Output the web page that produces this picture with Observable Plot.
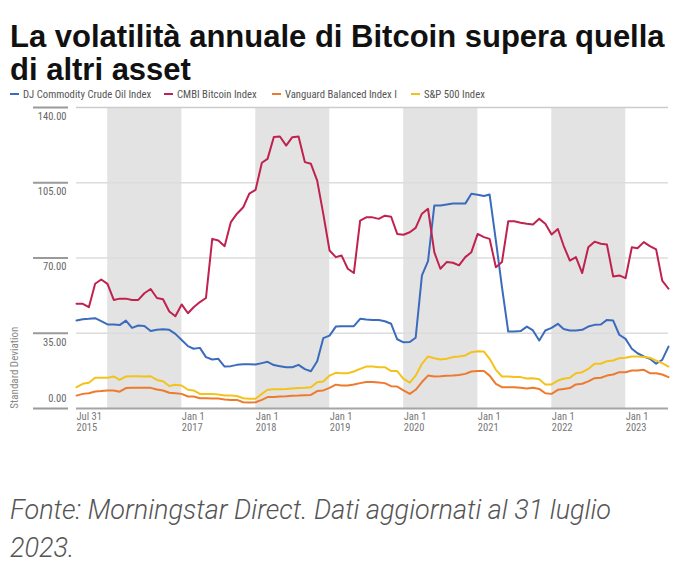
<!DOCTYPE html>
<html><head><meta charset="utf-8">
<script src="https://cdn.jsdelivr.net/npm/d3@7"></script>
<script src="https://cdn.jsdelivr.net/npm/@observablehq/plot@0.6"></script>
<style>
body{margin:0;background:#fff;width:684px;height:572px;position:relative;overflow:hidden;font-family:"Liberation Sans",Arial,sans-serif}
#title{position:absolute;left:10px;top:20px;font-size:31px;line-height:33px;font-weight:bold;color:#111;white-space:nowrap}
#legend{position:absolute;top:89px;left:0;width:684px;height:12px;font-family:"Liberation Sans Narrow","Roboto Condensed","Liberation Sans",sans-serif;font-size:10.7px;color:#555}
.item{position:absolute;top:0;white-space:nowrap;line-height:12px}
.sw{display:inline-block;width:9px;height:2.5px;vertical-align:middle;margin-right:4px;position:relative;top:-1px}
#chart{position:absolute;left:0;top:100px}
#caption{position:absolute;left:10px;top:491px;font-family:Roboto,"Liberation Sans",sans-serif;font-style:italic;font-weight:300;font-size:27px;line-height:38px;color:#555;white-space:nowrap}
</style></head>
<body>
<div id="title">La volatilità annuale di Bitcoin supera quella<br>di altri asset</div>
<div id="legend"></div>
<div id="chart"></div>
<div id="caption">Fonte: Morningstar Direct. Dati aggiornati al 31 luglio<br>2023.</div>
<script>
// Month-end observations from Jul 2015 to Jul 2023 (97 months)
const startYear = 2015, startMonth = 7, monthCount = 97;

const seriesNames = ["DJ Commodity Crude Oil Index", "CMBI Bitcoin Index", "Vanguard Balanced Index I", "S&P 500 Index"];
const seriesColors = ["#3b6bbd", "#c0224f", "#ee7a2e", "#f5c21b"];

const crudeOil = [40.9,41.5,41.7,42.0,40.6,39.1,39.1,38.8,40.9,37.5,38.6,38.4,36.0,36.6,36.9,36.6,34.7,31.9,29.0,27.8,28.2,23.9,22.8,23.1,19.5,19.7,20.3,20.6,20.6,20.5,21.1,21.7,20.2,19.7,19.2,19.2,20.3,18.3,17.3,22.0,32.7,33.9,38.1,38.3,38.3,38.3,41.7,41.4,41.2,41.2,40.6,39.4,32.2,30.8,30.9,32.9,61.9,68.5,94.4,94.4,94.9,95.3,95.3,95.3,99.9,99.4,98.8,99.5,78.1,56.4,35.8,35.8,36.0,38.1,36.3,31.6,36.3,37.5,39.4,37.0,36.3,36.3,36.6,38.1,38.9,39.1,41.2,40.9,34.3,32.4,27.8,25.7,24.2,23.1,20.8,22.6,28.8];

const bitcoin = [48.7,48.7,47.1,58.0,60.0,58.0,50.5,51.1,51.1,50.5,50.5,53.6,55.6,51.4,50.8,45.1,42.9,48.4,44.3,47.1,49.5,51.4,78.9,78.1,75.5,86.7,90.6,93.6,99.9,101.7,114.3,116.1,126.3,126.5,122.3,126.2,126.5,114.6,113.8,106.0,90.5,73.5,70.4,71.2,65.0,63.0,87.4,88.9,88.9,88.2,89.7,89.2,81.2,80.8,82.0,84.0,90.6,92.9,72.7,65.0,68.1,67.8,66.6,70.4,72.7,81.2,79.7,78.9,65.7,68.1,87.1,87.1,86.4,85.9,85.6,88.2,85.9,80.9,83.5,75.8,68.8,70.4,63.0,75.0,77.6,76.6,76.3,61.4,61.9,60.6,75.0,74.5,77.4,75.5,74.0,59.5,55.7];

const vanguardBalanced = [6.0,6.8,7.1,7.9,8.1,8.4,8.4,7.8,9.5,9.6,9.6,9.6,9.6,8.8,8.4,7.3,7.1,6.8,5.6,5.6,4.8,4.8,4.6,4.6,4.2,4.0,4.0,2.9,2.8,2.9,4.0,5.3,5.4,5.6,5.7,5.9,6.0,6.2,6.3,8.1,8.4,9.6,11.1,10.7,10.7,11.2,11.8,12.3,12.3,12.1,11.8,10.4,10.2,8.4,6.8,8.7,12.3,15.3,14.9,15.0,15.2,15.3,15.6,16.1,17.2,17.4,17.4,15.3,11.5,9.9,9.9,9.9,9.6,9.3,9.6,9.1,7.1,6.8,8.7,9.1,9.5,11.2,11.5,12.6,14.1,14.3,15.3,15.8,16.9,16.9,17.7,17.7,18.0,16.4,16.4,15.8,14.6];

const sp500 = [9.9,11.5,12.0,14.3,14.3,14.3,14.9,13.3,14.9,15.0,15.0,14.9,15.0,13.3,12.7,10.5,11.0,10.7,8.7,8.4,6.8,6.8,6.8,6.5,6.1,6.1,5.8,4.8,4.5,4.5,6.8,8.7,9.0,9.0,9.1,9.3,9.5,9.6,9.9,12.2,12.6,15.3,16.6,16.4,16.4,17.2,18.4,19.5,19.5,19.2,19.2,17.4,17.4,13.8,12.0,15.3,20.8,24.2,23.4,22.8,23.1,23.9,24.2,24.7,26.2,26.6,26.5,23.1,18.0,14.9,14.9,14.6,14.6,14.0,14.1,13.6,11.2,11.2,13.0,13.8,14.3,16.4,16.9,18.4,20.8,20.8,22.0,22.3,23.4,23.6,24.2,24.2,23.9,23.6,22.3,21.1,19.5];

const yTicks = [0, 35, 70, 105, 140];
const xTickDates = ["2015-07-31", "2017-01-01", "2018-01-01", "2019-01-01", "2020-01-01", "2021-01-01", "2022-01-01", "2023-01-01"];
const xTickLabels = ["Jul 31\n2015", "Jan 1\n2017", "Jan 1\n2018", "Jan 1\n2019", "Jan 1\n2020", "Jan 1\n2021", "Jan 1\n2022", "Jan 1\n2023"];
const shadedYears = [2016, 2018, 2020, 2022];
const yAxisTitle = "Standard Deviation";

// ---- build tables ----
const monthEnd = i => new Date(Date.UTC(startYear, startMonth - 1 + i + 1, 0));
const allValues = [crudeOil, bitcoin, vanguardBalanced, sp500];
const rows = [];
allValues.forEach((vals, s) => vals.forEach((v, i) => rows.push({series: seriesNames[s], date: monthEnd(i), value: v})));
const xTicks = xTickDates.map((d, i) => ({date: new Date(d + "T00:00:00Z"), label: xTickLabels[i]}));
const bands = shadedYears.map(y => ({start: new Date(Date.UTC(y, 0, 1)), end: new Date(Date.UTC(y + 1, 0, 1))}));

// legend
const legend = document.getElementById("legend");
const legendX = [10, 164, 272, 411];
seriesNames.forEach((n, i) => {
  const it = document.createElement("span");
  it.className = "item";
  it.style.left = legendX[i] + "px";
  it.innerHTML = `<span class="sw" style="background:${seriesColors[i]}"></span>${n}`;
  legend.appendChild(it);
});

const axisFont = `"Liberation Sans Narrow","Roboto Condensed","Liberation Sans",sans-serif`;

const chart = Plot.plot({
  width: 684,
  height: 332,
  marginLeft: 76,
  marginRight: 16,
  marginTop: 7,
  marginBottom: 24,
  style: {fontFamily: axisFont, background: "transparent", overflow: "visible"},
  x: {type: "utc", domain: [monthEnd(0), monthEnd(monthCount - 1)], axis: null},
  y: {domain: [0, 140]},
  color: {domain: seriesNames, range: seriesColors},
  marks: [
    Plot.rect(bands, {x1: "start", x2: "end", fill: "#e3e3e3"}),
    Plot.ruleY([35, 70, 105], {stroke: "#dcdcdc", strokeWidth: 1.5}),
    Plot.ruleY([140], {stroke: "#cccccc", strokeWidth: 1.5}),
    Plot.axisY(yTicks, {tickSize: 35, tickFormat: () => "", dx: -8, stroke: "#9a9a9a", strokeWidth: 2}),
    Plot.text(yTicks.filter(d => d > 0), {y: d => d, text: d => d.toFixed(2), frameAnchor: "left", textAnchor: "end", dx: -10, dy: 9, fill: "#666", fontSize: 10.5}),
    Plot.text(yTicks.filter(d => d === 0), {y: d => d, text: d => d.toFixed(2), frameAnchor: "left", textAnchor: "end", dx: -10, dy: -10, fill: "#666", fontSize: 10.5}),
    Plot.text([{t: yAxisTitle, v: 19}], {y: "v", text: "t", frameAnchor: "left", textAnchor: "middle", rotate: -90, dx: -62, fill: "#888", fontSize: 11}),
    Plot.text(xTicks, {x: "date", text: "label", frameAnchor: "bottom", textAnchor: "start", lineAnchor: "top", dy: 3, lineHeight: 1.1, fill: "#777", fontSize: 10.5}),
    Plot.line(rows, {x: "date", y: "value", z: "series", stroke: "series", strokeWidth: 2, strokeLinejoin: "round"}),
    Plot.ruleY([0], {stroke: "#a5a5a5", strokeWidth: 2})
  ]
});
document.getElementById("chart").appendChild(chart);
</script>
</body></html>
